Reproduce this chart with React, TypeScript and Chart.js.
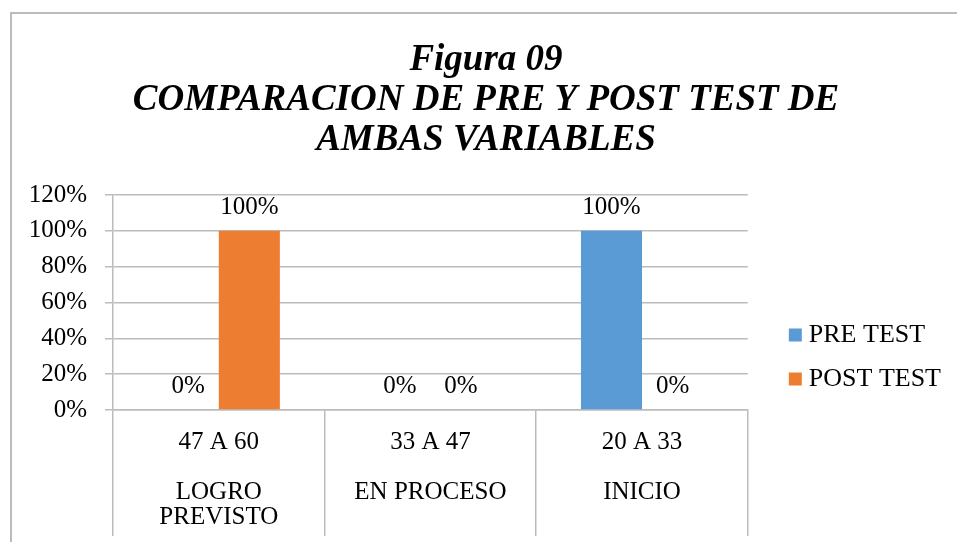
import React, { useEffect, useRef } from 'react';
import { Chart, registerables } from 'chart.js';

Chart.register(...registerables);

// ---- data ----
const titleLines = ['Figura 09', 'COMPARACION DE PRE Y POST TEST DE', 'AMBAS VARIABLES'];
const scoreRanges = ['47 A 60', '33 A 47', '20 A 33'];
const levelNames = [['LOGRO', 'PREVISTO'], ['EN PROCESO'], ['INICIO']];
const seriesNames = ['PRE TEST', 'POST TEST'];
const preTest = [0, 0, 100];
const postTest = [100, 0, 0];
const yMax = 120;
const yStep = 20;

// ---- styles ----
const FONT = "'Liberation Serif', 'Times New Roman', serif";
const BLUE = '#5B9BD5';
const ORANGE = '#ED7D31';
const GRID = '#bcbcbc';

const W = 957;
const H = 542;
const PAD_L = 21;
const PAD_R = 6;
const PLOT_LEFT = 113;
const PLOT_BOTTOM = 410;

const labels = scoreRanges.map((r, i) => [r, '', ...levelNames[i]]);

const framePlugin = {
  id: 'frame',
  beforeDraw(chart: any) {
    const ctx = chart.ctx;
    ctx.save();
    ctx.fillStyle = '#ffffff';
    ctx.fillRect(0, 0, chart.width, chart.height);
    ctx.strokeStyle = '#a6a6a6';
    ctx.lineWidth = 1.5;
    ctx.beginPath();
    ctx.moveTo(11, chart.height);
    ctx.lineTo(11, 13);
    ctx.lineTo(chart.width, 13);
    ctx.stroke();
    ctx.restore();
  },
};

const valueLabelPlugin = {
  id: 'valueLabels',
  afterDatasetsDraw(chart: any) {
    const ctx = chart.ctx;
    ctx.save();
    ctx.font = `25px ${FONT}`;
    ctx.fillStyle = '#000';
    ctx.textAlign = 'center';
    ctx.textBaseline = 'alphabetic';
    chart.data.datasets.forEach((ds: any, di: number) => {
      const meta = chart.getDatasetMeta(di);
      meta.data.forEach((el: any, i: number) => {
        ctx.fillText(`${ds.data[i]}%`, el.x, el.y - 17);
      });
    });
    ctx.restore();
  },
};

export default function App() {
  const ref = useRef<HTMLCanvasElement | null>(null);

  useEffect(() => {
    if (!ref.current) return;
    const chart = new Chart(ref.current, {
      type: 'bar',
      data: {
        labels,
        datasets: [
          { label: seriesNames[0], data: preTest, backgroundColor: BLUE, borderWidth: 0 },
          { label: seriesNames[1], data: postTest, backgroundColor: ORANGE, borderWidth: 0 },
        ],
      },
      options: {
        responsive: false,
        animation: false,
        events: [],
        devicePixelRatio: 1,
        layout: { padding: { left: PAD_L, right: PAD_R, top: 0, bottom: 0 } },
        datasets: { bar: { categoryPercentage: 0.577, barPercentage: 1 } },
        scales: {
          x: {
            grid: {
              display: true,
              drawOnChartArea: false,
              drawTicks: true,
              tickLength: 126,
              color: GRID,
              lineWidth: 1.5,
              offset: true,
            },
            border: { display: true, color: GRID, width: 1.5 },
            ticks: {
              font: { family: FONT, size: 25, lineHeight: 1 },
              color: '#000',
              padding: -106.5,
              autoSkip: false,
              maxRotation: 0,
              minRotation: 0,
            },
            afterFit: (s: any) => {
              s.height = H - PLOT_BOTTOM;
            },
          },
          y: {
            min: 0,
            max: yMax,
            ticks: {
              stepSize: yStep,
              font: { family: FONT, size: 25 },
              color: '#000',
              padding: 18,
              callback: (v: any) => `${v}%`,
            },
            grid: { color: GRID, lineWidth: 1.5, tickLength: 8 },
            border: { display: true, color: GRID, width: 1.5 },
            afterFit: (s: any) => {
              s.width = PLOT_LEFT - PAD_L;
            },
          },
          spacer: {
            type: 'linear',
            position: 'right',
            display: false,
            afterFit: (s: any) => {
              s.width = 29;
            },
          },
        },
        plugins: {
          title: {
            display: true,
            text: titleLines,
            color: '#000',
            font: { family: FONT, size: 37, weight: 'bold', style: 'italic', lineHeight: 40 / 37 },
            padding: { top: 40, bottom: 35 },
          },
          legend: {
            display: true,
            position: 'right',
            fullSize: false,
            align: 'end',
            labels: {
              font: { family: FONT, size: 26 },
              color: '#000',
              usePointStyle: true,
              pointStyle: 'rect',
              boxWidth: 1,
              boxHeight: 13,
              padding: 18,
            },
          },
          tooltip: { enabled: false },
        },
      } as any,
      plugins: [framePlugin, valueLabelPlugin],
    });
    return () => chart.destroy();
  }, []);

  return (
    <div style={{ position: 'fixed', left: 0, top: 0, width: W, height: H, background: '#fff' }}>
      <canvas ref={ref} width={W} height={H} style={{ display: 'block' }} />
    </div>
  );
}
